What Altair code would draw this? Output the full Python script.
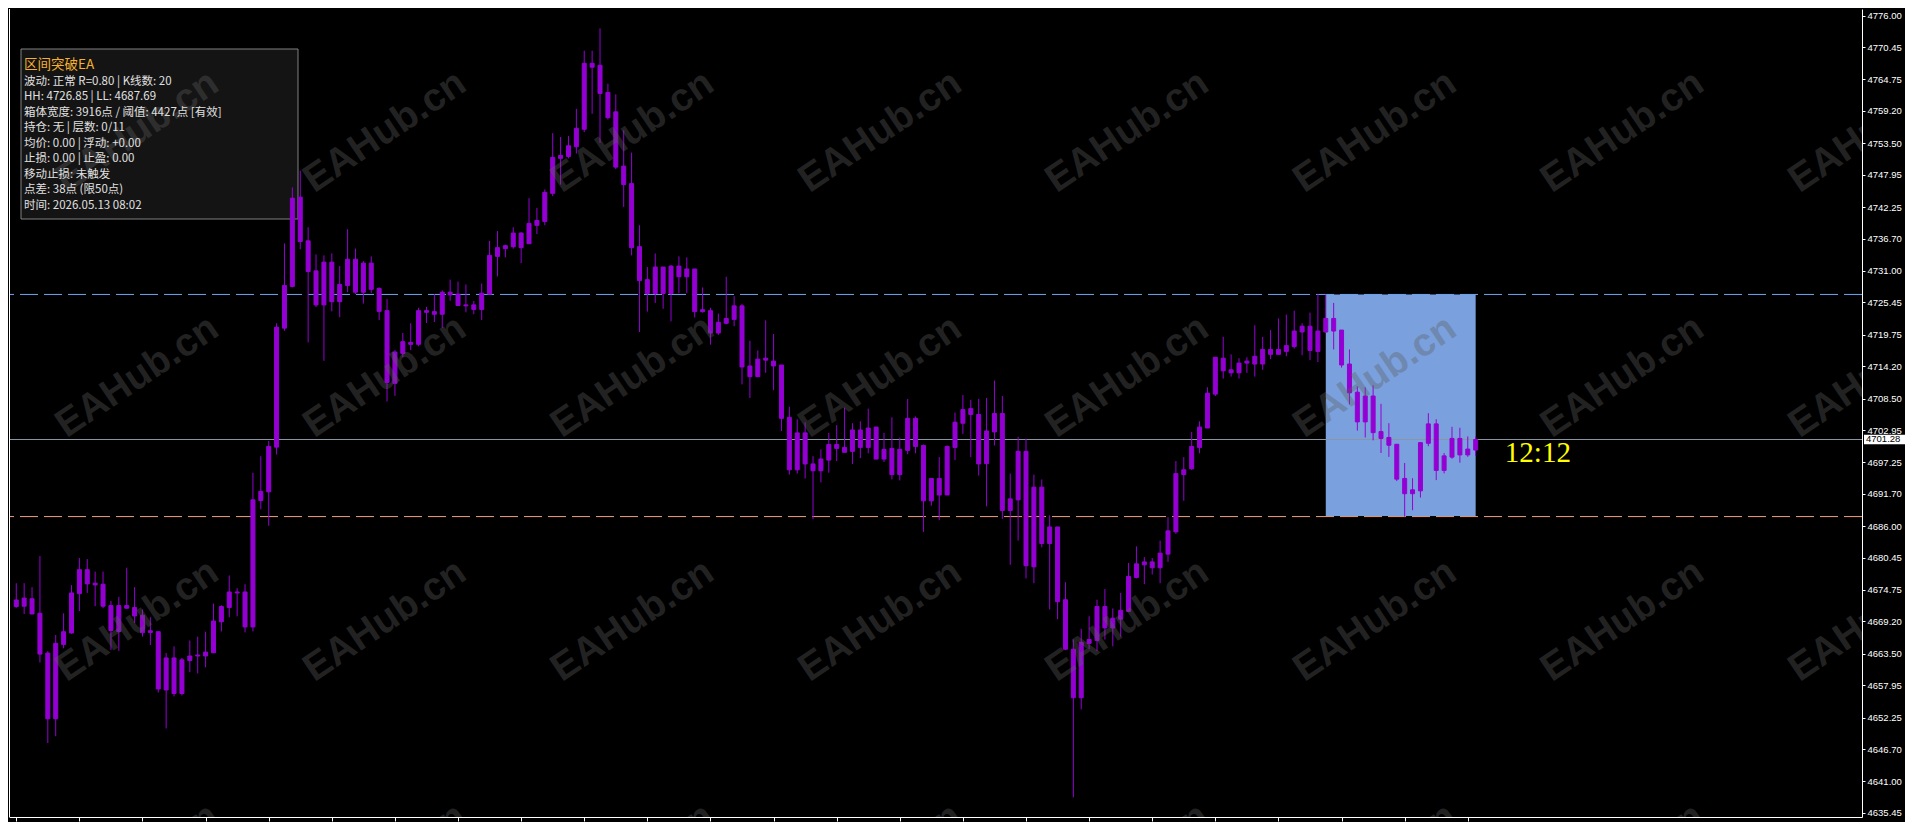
import altair as alt
import pandas as pd

# ---------------- data ----------------
opens = [4671.83, 4673.32, 4673.20, 4670.64, 4663.63, 4652.05, 4665.16, 4667.17, 4674.11, 4678.33,
         4675.94, 4675.77, 4672.00, 4667.44, 4672.00, 4671.66, 4670.29, 4667.27, 4667.39, 4657.13,
         4662.77, 4656.50, 4662.31, 4663.11, 4663.11, 4663.68, 4669.15, 4671.66, 4674.40, 4674.40,
         4668.24, 4690.52, 4692.06, 4699.93, 4720.91, 4728.26, 4744.00, 4736.30, 4731.00, 4725.01,
         4732.54, 4725.58, 4728.43, 4733.05, 4727.24, 4732.37, 4727.92, 4723.99, 4711.16, 4716.46,
         4718.40, 4718.06, 4723.99, 4723.82, 4723.36, 4727.24, 4726.90, 4725.01, 4725.01, 4724.21,
         4726.90, 4733.56, 4734.93, 4735.27, 4737.67, 4735.79, 4739.04, 4739.72, 4744.68, 4751.35,
         4751.18, 4752.89, 4755.97, 4767.59, 4767.25, 4762.46, 4759.04, 4749.47, 4746.39, 4735.27,
         4729.46, 4727.02, 4731.68, 4727.02, 4731.85, 4729.97, 4731.34, 4723.82, 4723.99, 4720.06,
         4721.77, 4722.45, 4724.84, 4714.24, 4712.36, 4715.27, 4715.10, 4714.41, 4705.18, 4695.94,
         4702.44, 4696.97, 4695.77, 4697.65, 4700.39, 4699.88, 4699.19, 4702.96, 4699.88, 4703.47,
         4697.83, 4699.71, 4695.09, 4699.36, 4705.01, 4700.22, 4690.47, 4694.41, 4691.50, 4699.88,
         4704.15, 4706.72, 4705.69, 4697.02, 4702.61, 4705.86, 4688.76, 4690.64, 4699.19, 4678.84,
         4692.87, 4682.95, 4685.86, 4673.03, 4664.31, 4655.76, 4665.34, 4665.85, 4671.83, 4668.07,
         4669.61, 4670.98, 4676.96, 4679.19, 4679.70, 4678.67, 4681.07, 4685.00, 4695.09, 4696.12,
         4699.88, 4703.30, 4709.28, 4715.61, 4713.56, 4713.04, 4714.75, 4714.58, 4714.58, 4717.15,
         4716.29, 4716.81, 4717.66, 4720.23, 4721.25, 4716.81, 4720.23, 4722.62, 4720.57, 4714.58,
         4709.62, 4704.38, 4708.94, 4702.67, 4701.64, 4700.44, 4694.41, 4691.72, 4692.23, 4700.61,
         4704.03, 4695.83, 4698.17, 4701.47, 4698.56, 4699.42]
highs = [4675.94, 4675.94, 4675.25, 4680.73, 4663.97, 4666.82, 4670.64, 4675.60, 4680.38, 4680.21,
         4677.99, 4677.99, 4672.81, 4673.54, 4678.67, 4675.25, 4671.32, 4669.95, 4667.39, 4663.63,
         4664.82, 4662.77, 4665.85, 4666.53, 4667.39, 4672.35, 4672.06, 4677.31, 4675.08, 4675.77,
         4695.43, 4698.34, 4701.02, 4721.77, 4735.84, 4745.71, 4748.66, 4738.69, 4733.91, 4733.74,
         4734.08, 4731.85, 4738.35, 4734.93, 4732.71, 4733.56, 4728.09, 4726.04, 4717.03, 4720.06,
         4721.77, 4724.50, 4724.67, 4726.90, 4727.58, 4729.46, 4729.12, 4728.61, 4725.70, 4728.78,
         4736.30, 4738.01, 4735.62, 4738.69, 4737.84, 4743.82, 4742.11, 4745.36, 4755.28, 4754.60,
         4754.77, 4759.56, 4769.82, 4769.82, 4773.75, 4764.00, 4762.12, 4755.79, 4751.86, 4739.04,
         4731.68, 4734.08, 4731.68, 4732.03, 4733.56, 4733.39, 4731.34, 4728.09, 4724.50, 4723.48,
         4729.97, 4726.55, 4725.19, 4718.69, 4716.98, 4722.28, 4719.88, 4714.41, 4707.06, 4704.84,
         4704.32, 4698.34, 4699.54, 4702.44, 4703.81, 4706.89, 4704.15, 4704.49, 4706.72, 4703.47,
         4702.44, 4705.18, 4701.59, 4708.43, 4705.35, 4700.39, 4694.41, 4698.17, 4700.22, 4706.03,
         4709.11, 4708.26, 4708.43, 4708.60, 4711.68, 4708.94, 4695.26, 4701.76, 4701.42, 4695.09,
         4694.23, 4687.91, 4685.86, 4676.11, 4666.02, 4667.90, 4670.12, 4673.03, 4674.91, 4671.49,
         4674.23, 4679.53, 4682.44, 4680.55, 4680.38, 4683.46, 4687.57, 4697.48, 4698.17, 4702.61,
         4704.49, 4710.48, 4715.78, 4719.37, 4716.29, 4715.61, 4715.78, 4721.42, 4719.37, 4720.57,
         4722.62, 4723.30, 4723.99, 4721.77, 4723.65, 4726.90, 4726.85, 4725.36, 4720.57, 4717.15,
         4710.65, 4710.48, 4710.82, 4707.57, 4704.15, 4700.44, 4697.14, 4694.46, 4700.73, 4705.91,
         4704.84, 4698.90, 4703.52, 4703.35, 4701.81, 4701.81]
lows = [4671.61, 4670.52, 4670.52, 4661.97, 4647.77, 4648.97, 4664.48, 4667.05, 4671.03, 4674.23,
        4671.89, 4671.54, 4664.19, 4664.02, 4671.44, 4668.93, 4666.53, 4665.05, 4656.67, 4650.34,
        4655.98, 4656.15, 4660.26, 4660.03, 4661.11, 4663.68, 4667.44, 4669.95, 4670.12, 4667.27,
        4667.44, 4688.99, 4686.08, 4698.63, 4720.45, 4728.09, 4734.81, 4718.40, 4724.62, 4715.15,
        4723.87, 4722.84, 4727.24, 4726.90, 4725.24, 4727.12, 4722.33, 4707.97, 4708.99, 4715.83,
        4717.03, 4717.71, 4721.82, 4721.99, 4720.96, 4725.75, 4724.90, 4723.70, 4723.36, 4722.33,
        4726.90, 4730.03, 4733.39, 4734.93, 4732.37, 4735.79, 4737.50, 4739.04, 4744.17, 4746.22,
        4750.84, 4751.69, 4755.45, 4758.70, 4753.57, 4757.68, 4748.95, 4742.29, 4733.74, 4720.23,
        4723.82, 4725.36, 4724.33, 4722.11, 4727.07, 4727.07, 4722.79, 4723.65, 4718.00, 4719.71,
        4721.59, 4721.25, 4710.99, 4708.60, 4712.36, 4713.04, 4709.97, 4702.78, 4695.09, 4695.26,
        4694.41, 4687.22, 4693.72, 4695.43, 4697.48, 4699.02, 4696.97, 4698.00, 4698.85, 4697.83,
        4697.31, 4694.23, 4694.06, 4698.68, 4698.85, 4685.00, 4689.62, 4687.05, 4691.50, 4697.65,
        4702.27, 4698.17, 4694.92, 4689.50, 4700.22, 4687.28, 4679.19, 4683.46, 4676.79, 4675.94,
        4682.26, 4671.32, 4669.61, 4664.14, 4638.20, 4653.71, 4664.31, 4663.97, 4666.02, 4664.82,
        4666.53, 4670.98, 4676.79, 4675.77, 4677.48, 4675.94, 4679.70, 4684.66, 4690.47, 4695.94,
        4698.85, 4703.30, 4708.94, 4712.02, 4712.36, 4712.02, 4713.04, 4712.36, 4713.56, 4715.44,
        4716.29, 4715.95, 4717.32, 4716.12, 4715.27, 4714.93, 4720.06, 4717.15, 4713.95, 4707.45,
        4702.84, 4701.64, 4701.13, 4698.90, 4698.22, 4693.94, 4687.69, 4688.81, 4691.04, 4700.10,
        4694.12, 4695.31, 4697.88, 4697.19, 4698.22, 4698.39]
closes = [4672.98, 4671.89, 4670.52, 4663.45, 4652.05, 4665.34, 4667.39, 4674.23, 4678.33, 4675.82,
          4675.65, 4671.89, 4667.61, 4672.00, 4671.54, 4670.17, 4667.22, 4667.56, 4657.30, 4662.77,
          4656.50, 4662.43, 4663.11, 4663.28, 4663.80, 4669.27, 4671.83, 4674.40, 4674.23, 4668.24,
          4690.64, 4692.13, 4700.05, 4721.08, 4728.43, 4743.82, 4736.18, 4730.88, 4725.01, 4732.54,
          4725.58, 4728.61, 4733.05, 4727.24, 4732.37, 4727.75, 4723.87, 4711.33, 4716.69, 4718.52,
          4718.06, 4723.99, 4723.70, 4723.36, 4727.24, 4726.78, 4724.90, 4724.84, 4724.21, 4727.07,
          4733.74, 4735.10, 4735.45, 4737.67, 4735.10, 4739.38, 4739.89, 4744.85, 4751.01, 4750.84,
          4753.06, 4756.14, 4767.59, 4766.91, 4762.29, 4758.02, 4749.30, 4746.22, 4735.10, 4729.29,
          4727.02, 4731.68, 4727.02, 4731.85, 4729.97, 4731.34, 4723.82, 4724.16, 4720.06, 4721.94,
          4722.62, 4724.84, 4714.07, 4712.36, 4715.44, 4715.61, 4714.24, 4705.01, 4695.94, 4702.44,
          4696.97, 4695.77, 4697.83, 4700.39, 4699.71, 4699.02, 4702.96, 4699.88, 4703.30, 4697.83,
          4699.54, 4695.09, 4699.54, 4705.01, 4700.05, 4690.47, 4694.41, 4691.50, 4700.05, 4704.32,
          4706.55, 4705.69, 4696.97, 4702.78, 4705.86, 4688.76, 4690.81, 4699.19, 4679.02, 4692.87,
          4682.95, 4685.86, 4672.69, 4664.31, 4655.76, 4665.51, 4666.02, 4671.83, 4668.07, 4669.78,
          4671.15, 4677.13, 4679.36, 4679.70, 4678.67, 4681.24, 4685.17, 4695.26, 4695.94, 4700.05,
          4703.47, 4709.45, 4715.78, 4713.39, 4713.04, 4714.75, 4715.10, 4715.95, 4717.15, 4716.29,
          4717.15, 4717.83, 4720.40, 4721.25, 4716.98, 4720.40, 4722.62, 4720.40, 4714.41, 4709.51,
          4704.38, 4708.94, 4702.49, 4701.47, 4700.27, 4694.29, 4691.72, 4692.41, 4700.73, 4704.03,
          4695.83, 4698.39, 4701.47, 4698.56, 4699.59, 4701.28]

y_ticks = [4776.00, 4770.45, 4764.75, 4759.20, 4753.50, 4747.95, 4742.25, 4736.70, 4731.00,
           4725.45, 4719.75, 4714.20, 4708.50, 4702.95, 4697.25, 4691.70, 4686.00, 4680.45,
           4674.75, 4669.20, 4663.50, 4657.95, 4652.25, 4646.70, 4641.00, 4635.45]

box_bars = 20
info_title = "区间突破EA"
info_lines = [
    "波动: 正常  R=0.80 | K线数: 20",
    "HH: 4726.85 | LL: 4687.69",
    "箱体宽度: 3916点 / 阈值: 4427点 [有效]",
    "持仓: 无 | 层数: 0/11",
    "均价: 0.00 | 浮动: +0.00",
    "止损: 0.00 | 止盈: 0.00",
    "移动止损: 未触发",
    "点差: 38点 (限50点)",
    "时间: 2026.05.13 08:02",
]
timer_label = "12:12"
watermark_text = "EAHub.cn"
wm_cols = [15.3, 46.7, 78.1, 109.5, 140.8, 172.2, 203.6, 235.0]   # bar-index positions
wm_rows = [4755.6, 4712.4, 4669.4, 4626.4]                         # price positions

# ---------------- derived tables ----------------
n = len(opens)
df = pd.DataFrame({"i": list(range(n)), "open": opens, "high": highs, "low": lows, "close": closes})
box_start = n - box_bars
hh = max(highs[box_start:])
ll = min(lows[box_start:])
last = closes[-1]

box_df = pd.DataFrame({"x0": [box_start], "x1": [n - 1], "hh": [hh], "ll": [ll]})
tag_df = pd.DataFrame({"p": [last], "hi": [last + 0.85], "lo": [last - 0.85], "label": [f"{last:.2f}"]})
timer_df = pd.DataFrame({"x": [n - 1 + 3.7], "y": [last - 2.4], "t": [timer_label]})
wm_df = pd.DataFrame([{"x": c, "y": r} for r in wm_rows for c in wm_cols])
one = pd.DataFrame({"a": [0]})

W, H = 1853, 808
PURPLE = "#9400D3"

xs = alt.Scale(domain=[-0.2875, 233.34], nice=False, zero=False)
ys = alt.Scale(domain=[4634.73, 4777.17], nice=False, zero=False)
xax = alt.Axis(values=list(range(0, n, 8)), labels=False, tickSize=4, title=None, grid=False,
               domainColor="#ffffff", tickColor="#ffffff")
yax = alt.Axis(orient="right", values=y_ticks, format=".2f", tickSize=3, labelPadding=2,
               labelOverlap=False, labelFlush=False, title=None, grid=False,
               domainColor="#ffffff", tickColor="#ffffff", labelColor="#ffffff",
               labelFont="Liberation Sans", labelFontSize=9.5)

def X(f):
    return alt.X(f, type="quantitative", scale=xs, axis=xax)

def Y(f):
    return alt.Y(f, type="quantitative", scale=ys, axis=yax)

layers = []

# info panel background (drawn beneath the candles)
layers.append(alt.Chart(one).mark_rect(fill="#141414", stroke="#808080", strokeWidth=1).encode(
    x=alt.value(12), x2=alt.value(289), y=alt.value(40), y2=alt.value(210)))

# breakout box
layers.append(alt.Chart(box_df).mark_rect(color="#7AA1DE").encode(
    x=X("x0"), x2="x1", y=Y("hh"), y2="ll"))

# level lines
layers.append(alt.Chart(tag_df).mark_rule(color="#8A96A3", strokeWidth=1).encode(y=Y("p")))
layers.append(alt.Chart(box_df).mark_rule(color="#000000", strokeWidth=1).encode(
    x=X("x0"), x2="x1", y=Y("ll")))
layers.append(alt.Chart(box_df).mark_rule(color="#6CA6F5", strokeWidth=1, strokeDash=[18, 6]).encode(y=Y("hh")))
layers.append(alt.Chart(box_df).mark_rule(color="#F0A080", strokeWidth=1, strokeDash=[18, 6]).encode(y=Y("ll")))

# candles
layers.append(alt.Chart(df).mark_rule(color=PURPLE, strokeWidth=1).encode(
    x=X("i"), y=Y("low"), y2="high"))
layers.append(alt.Chart(df).mark_bar(size=4, color=PURPLE, stroke=PURPLE, strokeWidth=1).encode(
    x=X("i"), y=Y("open"), y2="close"))

# watermark
layers.append(alt.Chart(wm_df).mark_text(
    text=watermark_text, angle=326, fontSize=39, fontWeight="bold", font="Liberation Sans",
    color="#5e5e5e", opacity=0.36, clip=True, align="center", baseline="middle").encode(
    x=X("x"), y=Y("y")))

# price tag on the axis
layers.append(alt.Chart(tag_df).mark_rect(fill="#ffffff").encode(
    x=alt.value(W + 2), x2=alt.value(W + 43), y=Y("hi"), y2="lo"))
layers.append(alt.Chart(tag_df).mark_text(
    align="left", baseline="middle", color="#000000", font="Liberation Sans", fontSize=9.5).encode(
    x=alt.value(W + 4), y=Y("p"), text="label:N"))

# countdown label
layers.append(alt.Chart(timer_df).mark_text(
    align="left", baseline="middle", color="#FFFF00", font="Liberation Serif", fontSize=29).encode(
    x=X("x"), y=Y("y"), text="t:N"))

# left frame line
layers.append(alt.Chart(one).mark_rule(color="#ffffff", strokeWidth=1).encode(
    x=alt.value(0.5), y=alt.value(0), y2=alt.value(H)))

# info panel texts
layers.append(alt.Chart(one).mark_text(
    text=info_title, align="left", baseline="middle", color="#F4B030",
    font="Noto Sans CJK SC", fontSize=13.5).encode(x=alt.value(15), y=alt.value(56)))
for k, line in enumerate(info_lines):
    layers.append(alt.Chart(one).mark_text(
        text=line, align="left", baseline="middle", color="#E0E0E0",
        font="Noto Sans CJK SC", fontSize=11.5).encode(x=alt.value(15), y=alt.value(72.5 + 15.5 * k)))

chart = alt.layer(*layers).properties(
    width=W, height=H, padding={"left": 0, "top": 0, "right": 0, "bottom": 0},
    background="#000000",
).configure_view(stroke=None).configure_axis(grid=False)

chart.save("out.html", embed_options={"renderer": "svg", "actions": False})
